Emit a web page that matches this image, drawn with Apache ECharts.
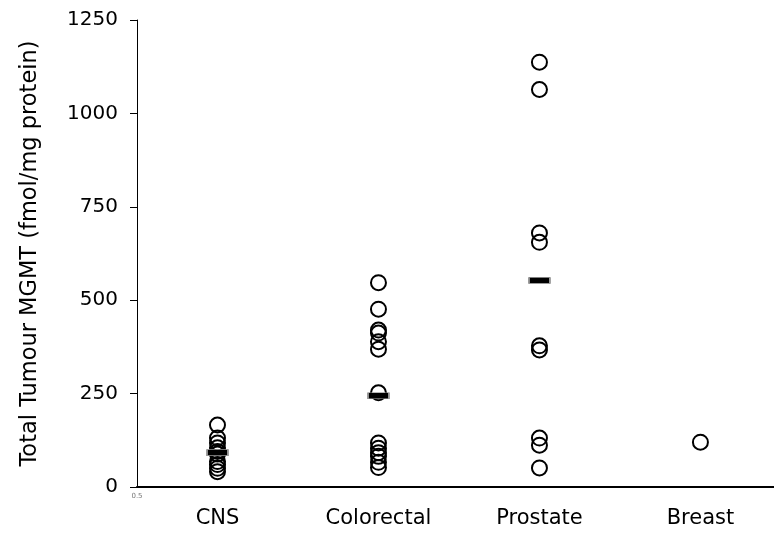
<!DOCTYPE html>
<html>
<head>
<meta charset="utf-8">
<script src="https://cdn.jsdelivr.net/npm/echarts@6/dist/echarts.min.js"></script>
<style>html,body{margin:0;padding:0;background:#fff}#c{width:774px;height:536px}</style>
</head>
<body>
<div id="c"></div>
<script>
const categories = ['CNS', 'Colorectal', 'Prostate', 'Breast'];
const cnsValues = [166, 131, 118, 105, 95, 88, 68, 60, 50, 41];
const colorectalValues = [547, 476, 420, 412, 389, 369, 252, 118, 104, 92, 82, 66, 52];
const prostateValues = [1137, 1064, 680, 655, 378, 367, 131, 112, 51];
const breastValues = [120];
const centralValues = [92, 244, 553, null];
const yTicks = [0, 250, 500, 750, 1000, 1250];

const groups = [cnsValues, colorectalValues, prostateValues, breastValues];
const points = [];
groups.forEach((g, i) => g.forEach(v => points.push([i + 1, v])));
const bars = centralValues.map((v, i) => v == null ? null : [i + 1, v]).filter(Boolean);

const chart = echarts.init(document.getElementById('c'));
chart.setOption({
  animation: false,
  backgroundColor: '#fff',
  textStyle: { fontFamily: 'DejaVu Sans' },
  grid: { left: 137, top: 20, right: 0, bottom: 49, containLabel: false },
  xAxis: {
    type: 'value', min: 0.5, max: 4.457, interval: 0.5,
    splitLine: { show: false },
    axisTick: { show: false },
    axisLine: { onZero: false, lineStyle: { color: '#000', width: 2 } },
    axisLabel: {
      margin: 6, showMinLabel: true, showMaxLabel: false, hideOverlap: false,
      formatter: v => {
        if (Math.abs(v - 0.5) < 1e-9) return '{s|0.5}';
        if (Math.abs(v - Math.round(v)) < 1e-9 && v >= 1 && v <= categories.length) return '{c|' + categories[Math.round(v) - 1] + '}';
        return '';
      },
      rich: {
        s: { fontSize: 7, color: '#777', fontFamily: 'DejaVu Sans' },
        c: { fontSize: 21, color: '#000', fontFamily: 'DejaVu Sans', padding: [15, 0, 0, 0] }
      }
    }
  },
  yAxis: {
    type: 'value', min: yTicks[0], max: yTicks[yTicks.length - 1], interval: 250,
    name: 'Total Tumour MGMT (fmol/mg protein)',
    nameLocation: 'middle', nameGap: 95, nameRotate: 90,
    nameTextStyle: { fontSize: 22.5, color: '#000', fontFamily: 'DejaVu Sans' },
    splitLine: { show: false },
    axisLine: { show: true, lineStyle: { color: '#000', width: 1 } },
    axisTick: { show: true, length: 7, lineStyle: { color: '#000', width: 1 } },
    axisLabel: { margin: 19, fontSize: 20, color: '#000', fontFamily: 'DejaVu Sans', formatter: v => String(v) }
  },
  series: [
    {
      type: 'scatter', data: points, symbol: 'circle', symbolSize: 15,
      itemStyle: { color: 'rgba(0,0,0,0)', borderColor: '#000', borderWidth: 2, opacity: 1 },
      z: 2
    },
    {
      type: 'scatter', data: bars, symbol: 'rect', symbolSize: [21, 6],
      itemStyle: { color: '#000', borderColor: '#999', borderWidth: 1, opacity: 1 },
      z: 3
    }
  ]
});
</script>
</body>
</html>
